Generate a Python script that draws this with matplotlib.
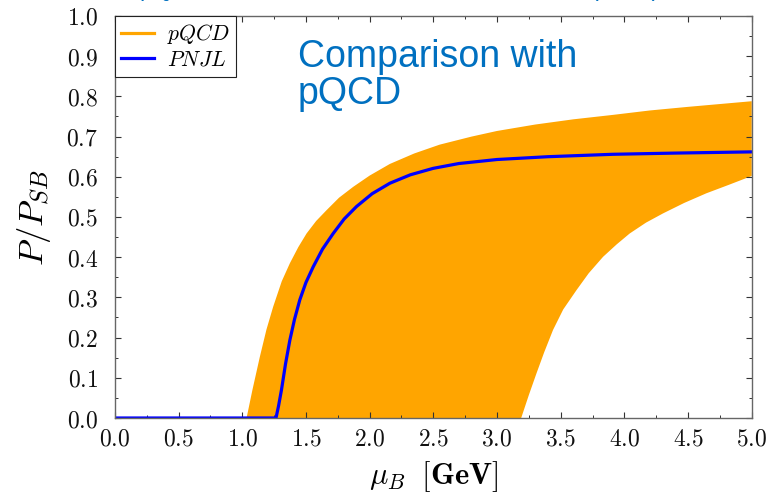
import matplotlib
matplotlib.use("Agg")
import matplotlib.pyplot as plt
from matplotlib.ticker import MultipleLocator, FuncFormatter
from matplotlib.lines import Line2D

plt.rcParams["mathtext.fontset"] = "cm"
plt.rcParams["font.family"] = "DejaVu Serif"

# pQCD band: upper (left) edge and lower (right) edge
band_upper_mu = [1.034, 1.08, 1.138, 1.19, 1.243, 1.31, 1.374, 1.44, 1.505, 1.58, 1.662, 1.76,
                 1.871, 2.0, 2.159, 2.35, 2.55, 2.8, 3.0, 3.3, 3.6, 3.91, 4.2, 4.5, 4.75, 5.0]
band_upper_p = [0.0, 0.07, 0.152, 0.22, 0.277, 0.34, 0.385, 0.425, 0.459, 0.49, 0.517, 0.548,
                0.575, 0.603, 0.632, 0.658, 0.68, 0.70, 0.714, 0.73, 0.743, 0.754, 0.765, 0.774, 0.781, 0.788]
band_lower_mu = [1.034, 3.19, 3.25, 3.31, 3.37, 3.44, 3.52, 3.624, 3.72, 3.833, 3.94, 4.042,
                 4.17, 4.304, 4.47, 4.644, 4.82, 5.0]
band_lower_p = [0.0, 0.0, 0.057, 0.111, 0.163, 0.219, 0.27, 0.318, 0.36, 0.401, 0.432, 0.459,
                0.486, 0.509, 0.535, 0.559, 0.58, 0.602]

# PNJL curve
pnjl_mu = [0.0, 1.23, 1.265, 1.285, 1.308, 1.34, 1.374, 1.41, 1.452, 1.50, 1.557, 1.63, 1.714,
           1.80, 1.897, 2.02, 2.159, 2.32, 2.499, 2.7, 3.0, 3.4, 3.911, 4.4, 5.0]
pnjl_p = [0.0, 0.0, 0.0, 0.03, 0.07, 0.135, 0.194, 0.245, 0.294, 0.337, 0.376, 0.42, 0.459,
          0.495, 0.526, 0.558, 0.584, 0.605, 0.621, 0.633, 0.643, 0.650, 0.656, 0.659, 0.662]

orange = "#FFA500"
blue = "#0000FF"
note_blue = "#0070C0"

fig = plt.figure(figsize=(7.71, 5.0), dpi=100)
ax = fig.add_axes([0.149, 0.164, 0.826, 0.804])

poly_mu = band_upper_mu + band_lower_mu[::-1]
poly_p = band_upper_p + band_lower_p[::-1]
ax.fill(poly_mu, poly_p, color=orange, lw=0)
ax.plot(pnjl_mu, pnjl_p, color=blue, lw=2.3)

ax.set_xlim(0, 5)
ax.set_ylim(0, 1)
ax.xaxis.set_major_locator(MultipleLocator(0.5))
ax.xaxis.set_minor_locator(MultipleLocator(0.25))
ax.yaxis.set_major_locator(MultipleLocator(0.1))
ax.yaxis.set_minor_locator(MultipleLocator(0.05))
fmt = FuncFormatter(lambda v, _: f"${v:.1f}$")
ax.xaxis.set_major_formatter(fmt)
ax.yaxis.set_major_formatter(fmt)
ax.tick_params(which="both", direction="in", top=True, right=True, colors="#333333", labelcolor="#111111")
ax.tick_params(which="major", length=4, width=0.8, labelsize=17)
ax.tick_params(which="minor", length=2.5, width=0.7)
ax.tick_params(axis="y", which="major", pad=12)
ax.tick_params(axis="x", which="major", pad=7)
for s in ax.spines.values():
    s.set_color("#666666")
    s.set_linewidth(1.0)

ax.set_xlabel(r"$\mu_B\ \;[\mathbf{GeV}]$", fontsize=22, labelpad=6)
ax.set_ylabel(r"$P/P_{SB}$", fontsize=25, labelpad=10)

handles = [Line2D([], [], color=orange, lw=2.3), Line2D([], [], color=blue, lw=2.3)]
leg = ax.legend(handles, ["$pQCD$", "$PNJL$"], loc="upper left", fontsize=15.5,
                frameon=True, fancybox=False, framealpha=1, edgecolor="#222222",
                borderaxespad=0, handlelength=1.5, handletextpad=0.6, labelspacing=0.1,
                borderpad=0.3)
leg.get_frame().set_linewidth(0.8)

fig.text(298 / 771, 1 - 39 / 500, "Comparison with\npQCD", fontsize=27, color=note_blue,
         family="Liberation Sans", ha="left", va="top", linespacing=1.05)
fig.text(140 / 771, 1.0 + 4 / 500, "pQCD results: Kurkela, Vuorinen, PRL 117 (2016)", fontsize=17,
         color=note_blue, family="Liberation Sans", ha="left", va="baseline")

fig.savefig("out.png", dpi=100)
